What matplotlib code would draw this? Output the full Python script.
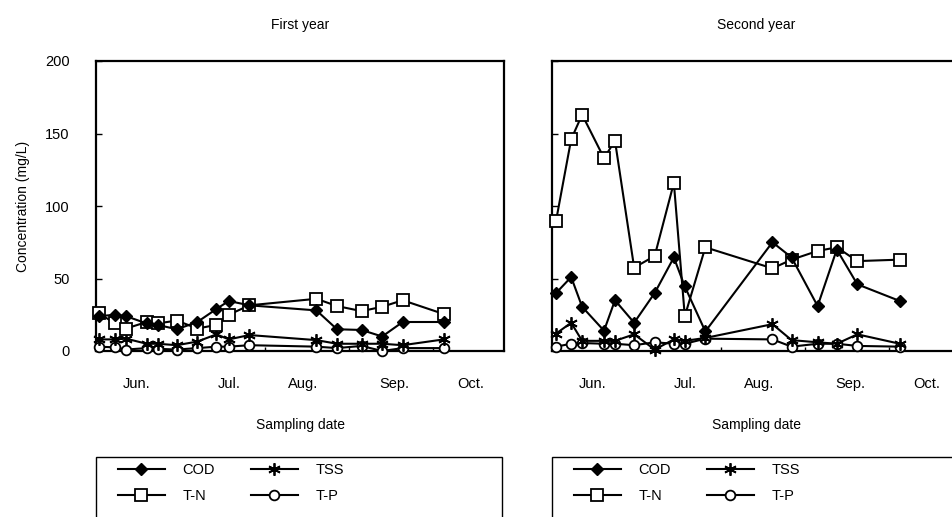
import matplotlib
matplotlib.use("Agg")
import matplotlib.pyplot as plt
from matplotlib.lines import Line2D
from matplotlib.patches import Rectangle

plt.rcParams['font.family'] = ['Liberation Sans', 'DejaVu Sans']

# sampling dates (day of year) and concentrations (mg/L)
days_y1 = [136, 142, 146, 153.5, 157.5, 164.5, 172, 179, 183.5, 191, 215.5, 223, 232, 239.5, 247, 262]
cod_y1 = [24, 25, 24, 19, 18, 15, 20, 29, 34.5, 31.5, 28, 15, 14.5, 10, 20, 20]
tss_y1 = [8, 8, 8.5, 5, 5, 4, 6.5, 11.5, 8, 11, 7.5, 5, 5, 5, 4, 8]
tn_y1 = [26, 19, 15.5, 20, 19, 21, 15.5, 18, 25, 31.5, 36, 31, 27.5, 30.5, 35, 25.5]
tp_y1 = [3, 2.5, 1, 2, 1.5, 1, 2, 3, 3, 4, 3, 2, 3.5, 0, 2, 2]

days_y2 = [136.5, 142, 146, 154, 158, 165, 172.5, 179.5, 183.5, 191, 215.5, 222.5, 232, 239, 246.5, 262]
cod_y2 = [40, 51, 30.5, 14, 35, 19.5, 40, 64.5, 44.5, 13.5, 75, 64.5, 31, 70, 46, 34.5]
tss_y2 = [12, 19.5, 7, 7, 7, 11.5, 1, 8, 7, 9, 18.5, 7.5, 6, 5, 11.5, 5]
tn_y2 = [90, 146, 163, 133, 145, 57.5, 65.5, 116, 24, 71.5, 57, 63, 69, 71.5, 62, 63]
tp_y2 = [3, 5, 5.5, 5, 5, 4, 6, 5, 5, 8.5, 8, 3, 5, 5, 3.5, 3]

month_pos = [150, 183.5, 210.5, 244, 272]
month_labels = ['Jun.', 'Jul.', 'Aug.', 'Sep.', 'Oct.']
titles = ['First year', 'Second year']

W, H = 952, 517
fig = plt.figure(figsize=(W / 100, H / 100), dpi=100)

def fx(px):
    return px / W

def fy(py):
    return 1 - py / H

styles = {
    'COD': dict(marker='D', markersize=6, markerfacecolor='black', markeredgecolor='black'),
    'TSS': dict(marker=(6, 2, 0), markersize=9, markeredgewidth=1.3, markeredgecolor='black'),
    'T-N': dict(marker='s', markersize=8, markerfacecolor='white', markeredgecolor='black', markeredgewidth=1.3),
    'T-P': dict(marker='o', markersize=7, markerfacecolor='white', markeredgecolor='black', markeredgewidth=1.3),
}

panels = [
    (96, days_y1, cod_y1, tss_y1, tn_y1, tp_y1),
    (552, days_y2, cod_y2, tss_y2, tn_y2, tp_y2),
]

for i, (left, days, cod, tss, tn, tp) in enumerate(panels):
    ax = fig.add_axes([fx(left), fy(351), fx(408), (351 - 61) / H])
    # filled diamonds drawn last so they sit on top
    ax.plot(days, tp, color='black', lw=1.5, **styles['T-P'], clip_on=False, zorder=3)
    ax.plot(days, tss, color='black', lw=1.5, **styles['TSS'], clip_on=False, zorder=3)
    ax.plot(days, tn, color='black', lw=1.5, **styles['T-N'], clip_on=False, zorder=3)
    ax.plot(days, cod, color='black', lw=1.5, **styles['COD'], clip_on=False, zorder=4)

    ax.set_xlim(135, 284)
    ax.set_ylim(0, 200)
    for s in ax.spines.values():
        s.set_linewidth(1.6)
    if i == 1:
        ax.spines['right'].set_visible(False)

    ax.set_xticks(month_pos, month_labels)
    ax.set_xticks([166, 196.7, 227.3, 258], minor=True)
    ax.tick_params(axis='x', which='major', length=0, pad=19, labelsize=10.5)
    ax.tick_params(axis='x', which='minor', direction='in', length=3, width=1)
    ax.set_yticks([0, 50, 100, 150, 200])
    ax.tick_params(axis='y', direction='in', length=4, width=1, pad=19, labelsize=10.5)
    if i == 1:
        ax.tick_params(axis='y', labelleft=False)
    else:
        ax.set_ylabel('Concentration (mg/L)', fontsize=10, labelpad=11)

    cx = left + 204
    fig.text(fx(cx), fy(25), titles[i], ha='center', va='center', fontsize=10)
    fig.text(fx(cx), fy(425), 'Sampling date', ha='center', va='center', fontsize=10)

    # legend box, running off the bottom of the figure like the original
    fig.add_artist(Rectangle((fx(left), fy(540)), fx(406), (540 - 457) / H,
                             transform=fig.transFigure, fill=False, lw=1.0,
                             edgecolor='black'))
    handles = [Line2D([], [], color='black', lw=1.5, **styles[k]) for k in ['COD', 'T-N', 'TSS', 'T-P']]
    fig.legend(handles, ['COD', 'T-N', 'TSS', 'T-P'], ncol=2, loc='upper left',
               bbox_to_anchor=(fx(left + 22), fy(463)), bbox_transform=fig.transFigure,
               frameon=False, fontsize=10.5, handlelength=3.2, handletextpad=1.2,
               columnspacing=2.5, labelspacing=0.8, borderpad=0, borderaxespad=0,
               numpoints=1)

fig.savefig('out.png', dpi=100)
